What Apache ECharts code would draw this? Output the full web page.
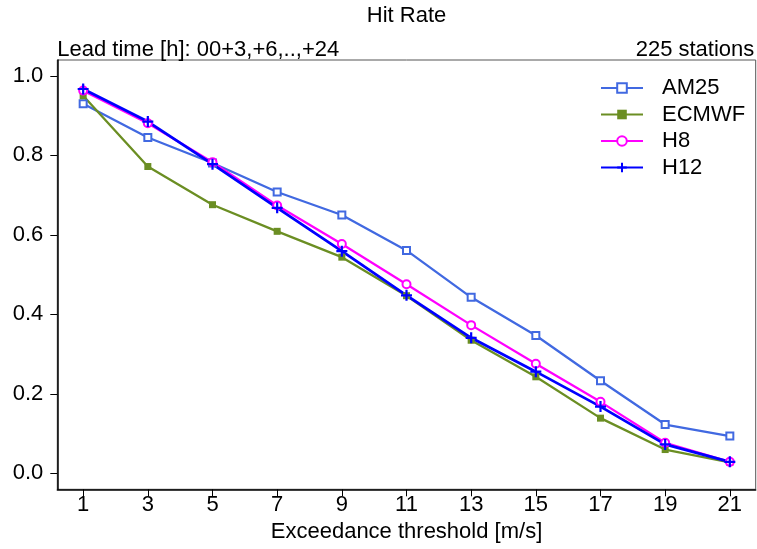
<!DOCTYPE html>
<html>
<head>
<meta charset="utf-8">
<script src="https://cdn.jsdelivr.net/npm/echarts@6/dist/echarts.min.js"></script>
<style>
html,body{margin:0;padding:0;background:#fff;}
#main{width:757px;height:549px;}
</style>
</head>
<body>
<div id="main"></div>
<script>
var thresholds = [1, 3, 5, 7, 9, 11, 13, 15, 17, 19, 21];
var yTicks = [0, 0.2, 0.4, 0.6, 0.8, 1.0];
var seriesNames = ['AM25', 'ECMWF', 'H8', 'H12'];
var am25  = [0.930, 0.845, 0.781, 0.708, 0.650, 0.561, 0.443, 0.347, 0.233, 0.123, 0.094];
var ecmwf = [0.950, 0.772, 0.676, 0.609, 0.544, 0.447, 0.335, 0.243, 0.139, 0.060, 0.028];
var h8    = [0.963, 0.881, 0.783, 0.674, 0.577, 0.476, 0.373, 0.276, 0.180, 0.077, 0.029];
var h12   = [0.967, 0.885, 0.778, 0.668, 0.559, 0.448, 0.341, 0.256, 0.168, 0.073, 0.029];
var titleText = 'Hit Rate';
var leftNote = 'Lead time [h]: 00+3,+6,..,+24';
var rightNote = '225 stations';
var xName = 'Exceedance threshold [m/s]';

function pairs(vals) {
  return thresholds.map(function (t, i) { return [t, vals[i]]; });
}

var FONT = '"Liberation Sans", Arial, Helvetica, sans-serif';
var chart = echarts.init(document.getElementById('main'), null, {renderer: 'canvas'});

var plusPath = 'path://M5,0 L5,10 M0,5 L10,5';

var option = {
  animation: false,
  backgroundColor: '#ffffff',
  textStyle: {fontFamily: FONT},
  grid: {
    left: 57.3, right: 1.3, top: 60, bottom: 59.7,
    show: true, borderColor: '#555555', borderWidth: 1, backgroundColor: 'transparent'
  },
  graphic: [
    {type: 'text', x: 406.5, y: 5.3, style: {text: titleText, font: '22px ' + FONT, fill: '#000', textAlign: 'center', textVerticalAlign: 'top'}},
    {type: 'text', x: 57.3, y: 38.6, style: {text: leftNote, font: '22px ' + FONT, fill: '#000', textAlign: 'left', textVerticalAlign: 'top'}},
    {type: 'text', x: 754.3, y: 38.6, style: {text: rightNote, font: '22px ' + FONT, fill: '#000', textAlign: 'right', textVerticalAlign: 'top'}}
  ],
  legend: {
    left: 600, top: 77, orient: 'vertical', padding: 0,
    itemWidth: 42, itemHeight: 12, itemGap: 4.5,
    textStyle: {fontSize: 22, color: '#000', fontFamily: FONT, lineHeight: 22, padding: [0, 0, 0, 14]},
    data: seriesNames
  },
  xAxis: {
    type: 'value', min: 0.2, max: 21.8,
    name: xName, nameLocation: 'middle', nameGap: 32,
    nameTextStyle: {fontSize: 22, color: '#000', fontFamily: FONT},
    axisLine: {show: true, onZero: false, lineStyle: {color: '#000', width: 1.5}},
    axisTick: {show: true, length: 7, lineStyle: {color: '#000', width: 1}, customValues: thresholds},
    axisLabel: {fontSize: 22, color: '#000', margin: 5, fontFamily: FONT, customValues: thresholds},
    splitLine: {show: false}
  },
  yAxis: {
    type: 'value', min: -0.04, max: 1.04,
    axisLine: {show: true, onZero: false, lineStyle: {color: '#000', width: 1.5}},
    axisTick: {show: true, length: 7, lineStyle: {color: '#000', width: 1}, customValues: yTicks},
    axisLabel: {fontSize: 22, color: '#000', margin: 14, fontFamily: FONT, customValues: yTicks,
      formatter: function (v) { return v.toFixed(1); }},
    splitLine: {show: false}
  },
  series: [
    {name: 'AM25', type: 'line', data: pairs(am25), symbol: 'emptyRect', symbolSize: 7,
      lineStyle: {color: '#4169E1', width: 2.3}, itemStyle: {color: '#4169E1', borderWidth: 1.8}},
    {name: 'ECMWF', type: 'line', data: pairs(ecmwf), symbol: 'rect', symbolSize: 7,
      lineStyle: {color: '#6B8E23', width: 2.3}, itemStyle: {color: '#6B8E23'}},
    {name: 'H8', type: 'line', data: pairs(h8), symbol: 'emptyCircle', symbolSize: 8,
      lineStyle: {color: '#FF00FF', width: 2.3}, itemStyle: {color: '#FF00FF', borderWidth: 1.8}},
    {name: 'H12', type: 'line', data: pairs(h12), symbol: plusPath, symbolSize: 11,
      lineStyle: {color: '#0000FF', width: 2.8}, itemStyle: {color: '#0000FF', borderColor: '#0000FF', borderWidth: 2.2}}
  ]
};
chart.setOption(option);
</script>
</body>
</html>
